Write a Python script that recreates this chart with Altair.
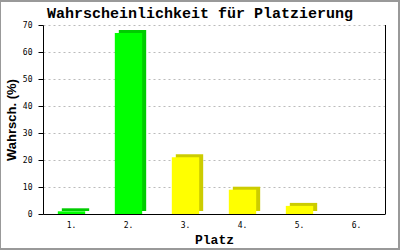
import altair as alt
import pandas as pd

title_text = "Wahrscheinlichkeit für Platzierung"
platz = ["1.", "2.", "3.", "4.", "5.", "6."]
wahrsch = [1, 67, 21, 9, 3, 0]
front_colors = ["#00ff00", "#00ff00", "#ffff00", "#ffff00", "#ffff00", "#ffff00"]
side_colors = ["#00cc00", "#00cc00", "#cccc00", "#cccc00", "#cccc00", "#cccc00"]
y_ticks = [0, 10, 20, 30, 40, 50, 60, 70]

df = pd.DataFrame({"Platz": platz, "Wahrsch": wahrsch})
df_title = pd.DataFrame({"t": [title_text]})

W, H = 342, 189
mono = "Liberation Mono"

xenc = alt.X(
    "Platz:N",
    sort=platz,
    scale=alt.Scale(paddingInner=0.52, paddingOuter=0.26),
    axis=alt.Axis(
        title="Platz", labelAngle=0, ticks=False, labelPadding=7,
        labelFont="DejaVu Sans Mono", labelFontSize=8, labelColor="black",
        domainColor="black", grid=False,
        titleFont=mono, titleFontSize=13, titleFontWeight="bold",
        titleBaseline="alphabetic", titleY=29, titleColor="black",
    ),
)
yenc = alt.Y(
    "Wahrsch:Q",
    scale=alt.Scale(domain=[0, 70], nice=False),
    axis=alt.Axis(
        title="Wahrsch. (%)", values=y_ticks, tickSize=5, tickColor="black",
        labelPadding=6, labelFont="DejaVu Sans Mono", labelFontSize=8,
        labelColor="black", domainColor="black",
        grid=True, gridColor="#bbbbbb", gridDash=[2, 3],
        titleFont="Liberation Sans", titleFontSize=13, titleFontWeight="bold",
        titleAngle=-90, titleBaseline="alphabetic", titleAlign="center",
        titleX=-28, titleY=H / 2, titleColor="black",
    ),
)

base = alt.Chart(df)

back = base.mark_bar(xOffset=4, yOffset=-3).encode(
    x=xenc, y=yenc,
    color=alt.Color("Platz:N", scale=alt.Scale(domain=platz, range=side_colors), legend=None),
)
front = base.mark_bar().encode(
    x=xenc, y=yenc,
    fill=alt.Fill("Platz:N", scale=alt.Scale(domain=platz, range=front_colors), legend=None),
)
right_line = base.mark_rule(color="black", strokeWidth=1).encode(
    x=alt.value(W + 0.5), y=alt.value(0), y2=alt.value(H)
)
border = base.mark_rect(fill=None, stroke="#999999", strokeWidth=2).encode(
    x=alt.value(-43), x2=alt.value(356), y=alt.value(-24), y2=alt.value(224)
)
title = alt.Chart(df_title).mark_text(
    font=mono, fontSize=15, fontWeight="bold", color="black",
    align="center", baseline="alphabetic",
).encode(text="t:N", x=alt.value(157), y=alt.value(-7))

chart = (
    alt.layer(back, front, right_line, border, title)
    .resolve_scale(color="independent")
    .properties(
        width=W, height=H,
        autosize=alt.AutoSizeParams(type="none"),
        padding={"left": 43, "top": 25, "right": 15, "bottom": 36},
        background="white",
    )
    .configure_view(stroke=None)
)

chart.save("out.html", embed_options={"renderer": "svg", "actions": False})
